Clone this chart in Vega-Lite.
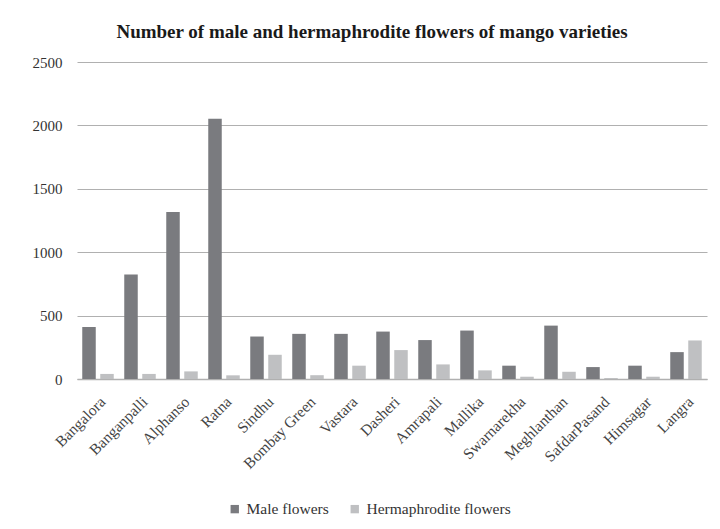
{
  "$schema": "https://vega.github.io/schema/vega-lite/v6.json",
  "width": 630,
  "height": 317,
  "autosize": {"type": "none"},
  "padding": {"left": 77, "top": 62, "right": 13, "bottom": 150},
  "background": "white",
  "title": {
    "text": "Number of male and hermaphrodite flowers of mango varieties",
    "font": "Liberation Serif",
    "fontSize": 19,
    "fontWeight": "bold",
    "color": "#1a1a1a",
    "anchor": "middle",
    "dx": -20,
    "offset": 13
  },
  "data": {
    "values": [
      {"variety": "Bangalora", "type": "Male flowers", "count": 410},
      {"variety": "Bangalora", "type": "Hermaphrodite flowers", "count": 40},
      {"variety": "Banganpalli", "type": "Male flowers", "count": 825},
      {"variety": "Banganpalli", "type": "Hermaphrodite flowers", "count": 40},
      {"variety": "Alphanso", "type": "Male flowers", "count": 1318},
      {"variety": "Alphanso", "type": "Hermaphrodite flowers", "count": 60},
      {"variety": "Ratna", "type": "Male flowers", "count": 2052},
      {"variety": "Ratna", "type": "Hermaphrodite flowers", "count": 29},
      {"variety": "Sindhu", "type": "Male flowers", "count": 335},
      {"variety": "Sindhu", "type": "Hermaphrodite flowers", "count": 191},
      {"variety": "Bombay Green", "type": "Male flowers", "count": 356},
      {"variety": "Bombay Green", "type": "Hermaphrodite flowers", "count": 30},
      {"variety": "Vastara", "type": "Male flowers", "count": 356},
      {"variety": "Vastara", "type": "Hermaphrodite flowers", "count": 105},
      {"variety": "Dasheri", "type": "Male flowers", "count": 374},
      {"variety": "Dasheri", "type": "Hermaphrodite flowers", "count": 228},
      {"variety": "Amrapali", "type": "Male flowers", "count": 307},
      {"variety": "Amrapali", "type": "Hermaphrodite flowers", "count": 115},
      {"variety": "Mallika", "type": "Male flowers", "count": 382},
      {"variety": "Mallika", "type": "Hermaphrodite flowers", "count": 68},
      {"variety": "Swarnarekha", "type": "Male flowers", "count": 105},
      {"variety": "Swarnarekha", "type": "Hermaphrodite flowers", "count": 18},
      {"variety": "Meghlanthan", "type": "Male flowers", "count": 421},
      {"variety": "Meghlanthan", "type": "Hermaphrodite flowers", "count": 57},
      {"variety": "SafdarPasand", "type": "Male flowers", "count": 94},
      {"variety": "SafdarPasand", "type": "Hermaphrodite flowers", "count": 8},
      {"variety": "Himsagar", "type": "Male flowers", "count": 105},
      {"variety": "Himsagar", "type": "Hermaphrodite flowers", "count": 18},
      {"variety": "Langra", "type": "Male flowers", "count": 212},
      {"variety": "Langra", "type": "Hermaphrodite flowers", "count": 304}
    ]
  },
  "mark": {"type": "bar"},
  "encoding": {
    "x": {
      "field": "variety",
      "type": "nominal",
      "sort": null,
      "scale": {"paddingInner": 0.25, "paddingOuter": 0.125},
      "axis": {
        "title": null,
        "labelAngle": -45,
        "labelFont": "Liberation Serif",
        "labelFontSize": 15.5,
        "labelColor": "#444444",
        "ticks": false,
        "labelPadding": 15,
        "labelOverlap": false,
        "domainColor": "#b0b0b0",
        "domainWidth": 1.5,
        "grid": false
      }
    },
    "xOffset": {
      "field": "type",
      "type": "nominal",
      "sort": ["Male flowers", "Hermaphrodite flowers"],
      "scale": {"paddingInner": 0.25}
    },
    "y": {
      "field": "count",
      "type": "quantitative",
      "scale": {"domain": [0, 2500]},
      "axis": {
        "title": null,
        "values": [0, 500, 1000, 1500, 2000, 2500],
        "format": "d",
        "labelFont": "Liberation Serif",
        "labelFontSize": 15,
        "labelColor": "#333333",
        "ticks": false,
        "domain": false,
        "labelPadding": 15,
        "gridColor": "#b0b0b0",
        "gridWidth": 1.2
      }
    },
    "color": {
      "field": "type",
      "type": "nominal",
      "sort": ["Male flowers", "Hermaphrodite flowers"],
      "scale": {"domain": ["Male flowers", "Hermaphrodite flowers"], "range": ["#7a7b7f", "#bfc0c2"]},
      "legend": {
        "title": null,
        "orient": "none",
        "direction": "horizontal",
        "legendX": 150,
        "legendY": 439,
        "symbolType": "square",
        "symbolSize": 70,
        "symbolStrokeWidth": 0,
        "labelFont": "Liberation Serif",
        "labelFontSize": 15.5,
        "labelColor": "#333333",
        "columnPadding": 18
      }
    }
  },
  "config": {"view": {"stroke": null}}
}
